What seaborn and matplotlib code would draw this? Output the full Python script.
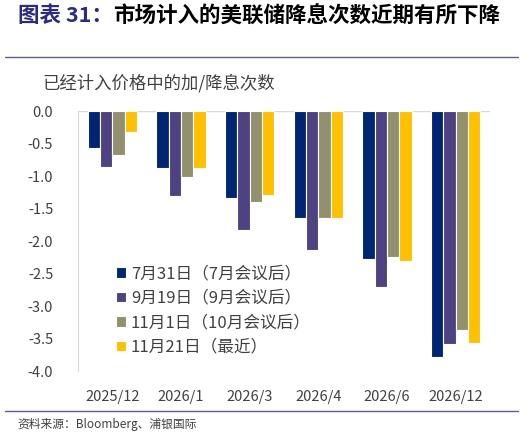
import numpy as np
import pandas as pd
import matplotlib
matplotlib.use("Agg")
import matplotlib.pyplot as plt
import seaborn as sns
from matplotlib.ticker import FormatStrFormatter

# 数据
months = ["2025/12", "2026/1", "2026/3", "2026/4", "2026/6", "2026/12"]
series_names = ["7月31日（7月会议后）", "9月19日（9月会议后）",
                "11月1日（10月会议后）", "11月21日（最近）"]
jul31 = [-0.56, -0.87, -1.34, -1.65, -2.28, -3.79]
sep19 = [-0.86, -1.31, -1.83, -2.14, -2.71, -3.59]
nov1 = [-0.68, -1.02, -1.40, -1.64, -2.25, -3.37]
nov21 = [-0.32, -0.88, -1.29, -1.64, -2.30, -3.57]
colors = ["#002673", "#4F4283", "#92906D", "#FFC000"]

df = pd.DataFrame({
    "month": months * 4,
    "series": np.repeat(series_names, len(months)),
    "value": jul31 + sep19 + nov1 + nov21,
})

sns.set_style("white")
plt.rcParams["font.family"] = ["Noto Sans CJK SC", "DejaVu Sans"]
plt.rcParams["axes.unicode_minus"] = False

fig = plt.figure(figsize=(5.28, 4.36), dpi=100)
ax = fig.add_axes([0.148, 0.149, 0.78, 0.596])

sns.barplot(data=df, x="month", y="value", hue="series", order=months,
            hue_order=series_names, palette=colors, saturation=1, width=0.72,
            edgecolor="white", linewidth=0.8, ax=ax)

ax.set_ylim(-4.0, 0.0)
ax.set_yticks(np.arange(-4.0, 0.01, 0.5))
ax.yaxis.set_major_formatter(FormatStrFormatter("%.1f"))
ax.set_xlabel("")
ax.set_ylabel("")
ax.axhline(0, color="#D9D9D9", lw=1, zorder=0)
for s in ["top", "right", "bottom"]:
    ax.spines[s].set_visible(False)
ax.spines["left"].set_color("#D9D9D9")
ax.tick_params(axis="both", length=0, colors="#404040")
ax.tick_params(axis="x", pad=14, labelsize=10.5)
ax.tick_params(axis="y", pad=18, labelsize=10.5)

handles, labels = ax.get_legend_handles_labels()
ax.legend(handles, labels, loc="upper left", bbox_to_anchor=(0.055, 0.465),
          frameon=False, fontsize=12, handlelength=0.6, handleheight=0.6,
          handletextpad=0.3, labelspacing=0.45, labelcolor="#404040")

# 标题
renderer = fig.canvas.get_renderer()
t1 = fig.text(18 / 528, 1 - 16 / 436, "图表 31：", color="#2B2B80",
              fontsize=15.5, fontweight="bold", va="center", ha="left")
bb = t1.get_window_extent(renderer)
fig.text(bb.x1 / 528, 1 - 16 / 436, "市场计入的美联储降息次数近期有所下降",
         color="black", fontsize=15.5, fontweight="bold", va="center", ha="left")

fig.add_artist(plt.Line2D([5 / 528, 518 / 528], [1 - 57 / 436, 1 - 57 / 436],
                          color="#5B5BA0", lw=1))
fig.text(42 / 528, 1 - 83 / 436, "已经计入价格中的加/降息次数", color="#404040",
         fontsize=12.5, va="center", ha="left")
fig.add_artist(plt.Line2D([5 / 528, 518 / 528], [1 - 411 / 436, 1 - 411 / 436],
                          color="#5B5BA0", lw=1))
fig.text(17 / 528, 1 - 424 / 436, "资料来源：Bloomberg、浦银国际", color="#404040",
         fontsize=8.5, va="center", ha="left")

fig.savefig("out.png", dpi=100)
